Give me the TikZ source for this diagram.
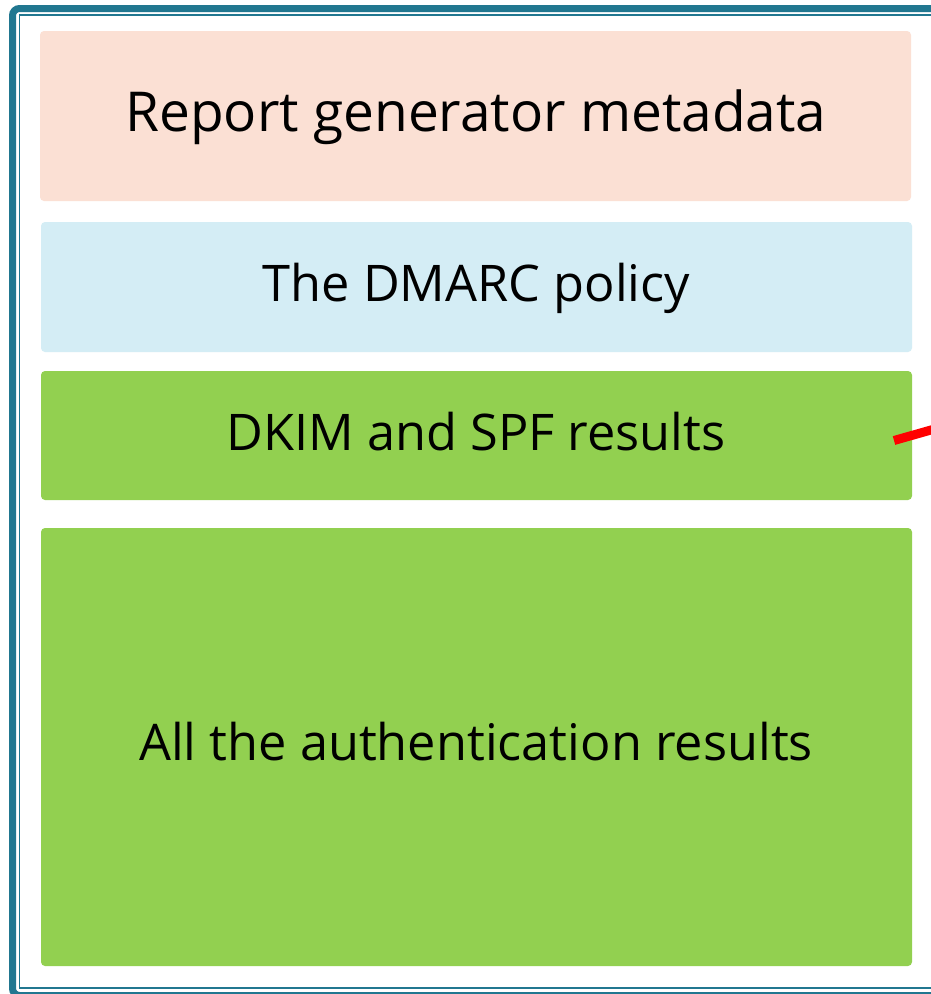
\documentclass[tikz,border=0pt]{standalone}
\usepackage{fontspec}
\setmainfont{Open Sans}
\definecolor{framec}{HTML}{217790}
\definecolor{peach}{HTML}{FBE0D4}
\definecolor{lblue}{HTML}{D4EDF5}
\definecolor{lgreen}{HTML}{92D050}
\begin{document}
\begin{tikzpicture}[x=1pt,y=-1pt,
  blk/.style={rounded corners=4pt, inner sep=0pt, text=black},
  bigtxt/.style={anchor=base, inner sep=0pt, font=\fontsize{55}{62}\selectfont},
  midtxt/.style={anchor=base, inner sep=0pt, font=\fontsize{50.5}{58}\selectfont}]
\useasboundingbox (0,0) rectangle (931,994);
\fill[white] (0,0) rectangle (931,994);
% frame
\draw[framec, line width=7pt, rounded corners=7pt] (12.5,8.5) rectangle (945,995.5);
\draw[framec, line width=1.6pt] (19.6,15.2) rectangle (940,988);
% blocks
\node[blk, fill=peach, minimum width=871pt, minimum height=170pt] (b1) at (475.5,116) {};
\node[bigtxt] (t1) at (476,131) {Report generator metadata};
\node[blk, fill=lblue, minimum width=871pt, minimum height=130pt] (b2) at (476.5,287) {};
\node[midtxt] (t2) at (476.5,301) {The DMARC policy};
\node[blk, fill=lgreen, minimum width=871pt, minimum height=129pt] (b3) at (476.5,435.5) {};
\node[midtxt] (t3) at (476,450) {DKIM and SPF results};
\node[blk, fill=lgreen, minimum width=871pt, minimum height=438pt] (b4) at (476.5,747) {};
\node[midtxt] (t4) at (476,760) {All the authentication results};
% red pointer
\coordinate (rs) at (894,440.5);
\coordinate (re) at (945,426);
\draw[red, line width=9pt] (rs) -- (re);
\end{tikzpicture}
\end{document}
